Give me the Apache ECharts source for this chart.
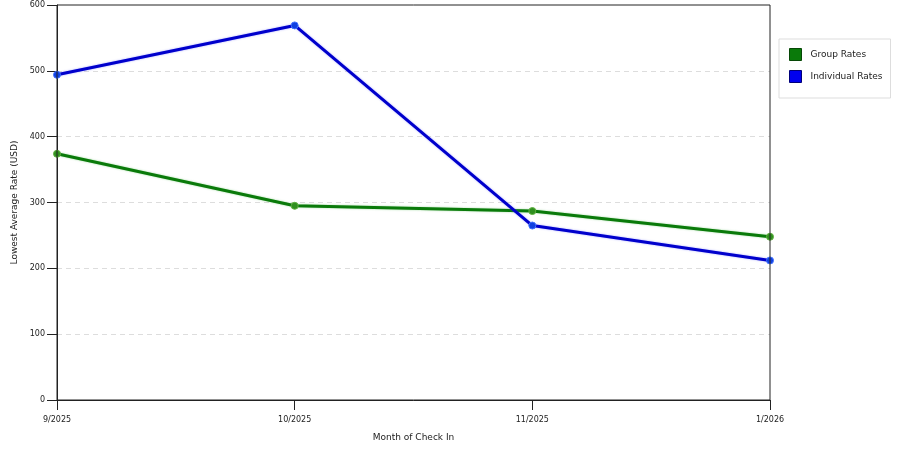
<!DOCTYPE html>
<html><head><meta charset="utf-8">
<script src="https://cdn.jsdelivr.net/npm/echarts@6/dist/echarts.min.js"></script>
<style>html,body{margin:0;padding:0;background:#fff}#c{width:900px;height:450px}</style>
</head><body><div id="c"></div>
<script>
const categories = ['9/2025', '10/2025', '11/2025', '1/2026'];
const groupRates = [374, 295, 287, 248];
const individualRates = [494, 569, 265, 212];
const yTicks = [0, 100, 200, 300, 400, 500, 600];

const chart = echarts.init(document.getElementById('c'));
const font = 'DejaVu Sans';
chart.setOption({
  animation: false,
  grid: { left: 57, right: 130, top: 5, bottom: 50, show: true, borderColor: '#222', borderWidth: 1, backgroundColor: 'transparent', z: 5 },
  legend: {
    orient: 'vertical', left: 779, top: 39,
    padding: [9, 8, 15, 10], itemGap: 9,
    itemWidth: 12, itemHeight: 12, icon: 'rect',
    borderColor: '#ddd', borderWidth: 1,
    textStyle: { fontFamily: font, fontSize: 9, color: '#222', padding: [0, 0, 0, 4] },
    data: [
      { name: 'Group Rates', itemStyle: { color: '#0a7a0a', borderColor: '#064806', borderWidth: 1 } },
      { name: 'Individual Rates', itemStyle: { color: '#0000ee', borderColor: '#00007a', borderWidth: 1 } }
    ]
  },
  xAxis: {
    type: 'category', data: categories, boundaryGap: false,
    name: 'Month of Check In', nameLocation: 'middle', nameGap: 33,
    nameTextStyle: { fontFamily: font, fontSize: 9, color: '#222' },
    axisLine: { lineStyle: { color: '#222' } },
    axisTick: { show: true, length: 10, lineStyle: { color: '#222' } },
    axisLabel: { fontFamily: font, fontSize: 8, color: '#222', margin: 16 },
    splitLine: { show: false }
  },
  yAxis: {
    type: 'value', min: yTicks[0], max: yTicks[yTicks.length - 1], interval: 100,
    name: 'Lowest Average Rate (USD)', nameLocation: 'middle', nameGap: 34,
    nameTextStyle: { fontFamily: font, fontSize: 9, color: '#222' },
    axisLine: { show: true, lineStyle: { color: '#222' } },
    axisTick: { show: true, length: 10, lineStyle: { color: '#222' } },
    axisLabel: { fontFamily: font, fontSize: 8, color: '#222', margin: 12 },
    splitLine: { show: true, showMinLine: false, showMaxLine: false, lineStyle: { color: '#ddd', type: [5, 4] } }
  },
  series: [
    {
      name: 'Group Rates', type: 'line', data: groupRates,
      symbol: 'circle', symbolSize: 7,
      lineStyle: { color: '#0a7a0a', width: 3, shadowColor: 'rgba(60,180,60,0.5)', shadowBlur: 2 },
      itemStyle: { color: '#2f8f1f', borderColor: '#60b040', borderWidth: 1 },
      z: 2
    },
    {
      name: 'Individual Rates', type: 'line', data: individualRates,
      symbol: 'circle', symbolSize: 7,
      lineStyle: { color: '#0000cc', width: 3, shadowColor: 'rgba(80,80,255,0.5)', shadowBlur: 2 },
      itemStyle: { color: '#1040e0', borderColor: '#4070ff', borderWidth: 1 },
      z: 3
    }
  ]
});
</script></body></html>
